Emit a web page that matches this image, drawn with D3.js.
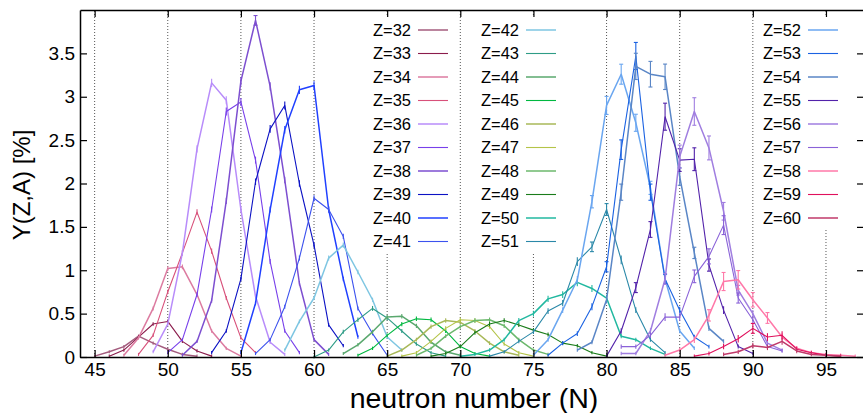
<!DOCTYPE html>
<html>
<head>
<meta charset="utf-8">
<script src="https://cdn.jsdelivr.net/npm/d3@7"></script>
<style>
  body { margin: 0; background: #fff; }
  text { font-family: "Liberation Sans", Arial, sans-serif; fill: #000; }
</style>
</head>
<body>
<svg id="chart" width="863" height="413"></svg>
<script>
// proton numbers, one curve each
const zList = [32, 33, 34, 35, 36, 37, 38, 39, 40, 41,
               42, 43, 44, 45, 46, 47, 48, 49, 50, 51,
               52, 53, 54, 55, 56, 57, 58, 59, 60];

// first neutron number of each curve
const nStart = [45, 46, 47, 48, 49, 50, 51, 53, 55, 56,
                58, 60, 62, 63, 65, 66, 67, 68, 70, 72,
                75, 76, 78, 80, 81, 81, 84, 86, 88];

// yields Y(Z,A) in %, one value per neutron number from nStart on
const yields = [
  [0.01, 0.06, 0.12, 0.24, 0.16, 0.09, 0.03, 0.01],
  [0.01, 0.08, 0.23, 0.38, 0.41, 0.18, 0.07, 0.01],
  [0.02, 0.22, 0.56, 1.02, 1.04, 0.72, 0.30, 0.10, 0.01],
  [0.03, 0.25, 0.75, 1.20, 1.67, 1.22, 0.68, 0.22, 0.05],
  [0.06, 0.38, 1.20, 2.40, 3.16, 2.96, 1.70, 0.70, 0.17, 0.03],
  [0.05, 0.20, 0.72, 1.70, 2.83, 2.94, 2.27, 1.10, 0.30, 0.05],
  [0.02, 0.18, 0.65, 1.80, 3.18, 3.88, 3.12, 2.04, 0.85, 0.20, 0.03],
  [0.05, 0.30, 0.90, 2.02, 2.63, 2.90, 2.00, 1.29, 0.37, 0.13],
  [0.05, 0.62, 1.70, 2.62, 3.08, 3.13, 1.70, 0.90, 0.23],
  [0.04, 0.20, 0.58, 1.14, 1.83, 1.70, 1.39, 0.56, 0.27, 0.02],
  [0.08, 0.41, 0.68, 1.14, 1.29, 0.98, 0.66, 0.23, 0.08],
  [0.00, 0.08, 0.29, 0.43, 0.56, 0.45, 0.30, 0.15, 0.05, 0.01],
  [0.04, 0.14, 0.29, 0.46, 0.47, 0.36, 0.17, 0.06, 0.02],
  [0.02, 0.10, 0.25, 0.38, 0.44, 0.43, 0.30, 0.12, 0.04, 0.01],
  [0.01, 0.08, 0.20, 0.35, 0.42, 0.40, 0.30, 0.16, 0.06, 0.02],
  [0.01, 0.05, 0.18, 0.33, 0.43, 0.42, 0.35, 0.15, 0.05, 0.01],
  [0.02, 0.10, 0.24, 0.35, 0.42, 0.43, 0.36, 0.20, 0.08, 0.03],
  [0.01, 0.04, 0.12, 0.28, 0.38, 0.42, 0.37, 0.31, 0.26, 0.16, 0.13, 0.05, 0.01],
  [0.01, 0.03, 0.08, 0.20, 0.42, 0.50, 0.67, 0.72, 0.86, 0.79, 0.68, 0.24, 0.20, 0.10, 0.03],
  [0.01, 0.06, 0.18, 0.29, 0.53, 0.62, 1.10, 1.27, 1.70, 1.12, 0.54, 0.20, 0.05],
  [0.02, 0.20, 0.54, 0.89, 1.79, 2.90, 3.26, 2.70, 1.95, 0.90, 0.30, 0.10],
  [0.02, 0.16, 0.27, 0.58, 1.04, 2.39, 3.47, 1.90, 0.90, 0.54, 0.23, 0.12],
  [0.08, 0.17, 0.66, 1.90, 3.35, 3.26, 3.23, 2.08, 1.20, 0.33, 0.18],
  [0.01, 0.30, 0.80, 1.47, 2.77, 2.27, 2.28, 1.06, 0.54, 0.12, 0.04],
  [0.04, 0.04, 0.30, 0.90, 2.31, 2.83, 2.41, 1.68, 0.77, 0.50, 0.16, 0.08],
  [0.12, 0.12, 0.25, 0.46, 0.46, 0.93, 1.16, 1.52, 0.68, 0.43, 0.12, 0.07],
  [0.02, 0.08, 0.20, 0.48, 0.87, 0.89, 0.66, 0.45, 0.23, 0.10, 0.05, 0.03, 0.02, 0.01],
  [0.01, 0.04, 0.12, 0.21, 0.33, 0.23, 0.25, 0.09, 0.05, 0.02, 0.01],
  [0.03, 0.06, 0.13, 0.11, 0.18, 0.07, 0.03, 0.02, 0.01]
];

// relative size of the error bars of each curve
const errRel = [0.01, 0.01, 0.01, 0.01, 0.01, 0.01, 0.01, 0.01, 0.01, 0.01,
                0.01, 0.02, 0.02, 0.02, 0.02, 0.02, 0.02, 0.02, 0.03, 0.03,
                0.03, 0.04, 0.04, 0.05, 0.05, 0.06, 0.1, 0.12, 0.12];

const colors = ["#a45c7e", "#8b1c4c", "#dc7ba0", "#d8507a", "#b88cfa", "#7840ea", "#7d4fd0",
                "#0c12c4", "#2040ff", "#3c52ee", "#7ec6e2", "#2e9c86", "#5aa86e", "#00b840",
                "#a8b858", "#b4c448", "#6cb86c", "#1a7c1a", "#22b8a0", "#2a88a8", "#6aa6f0",
                "#1a62e2", "#5a86c6", "#5222aa", "#a07ee0", "#8a62d8", "#ff78a8", "#e0105c",
                "#c03a6a"];

const xTicks = [45, 50, 55, 60, 65, 70, 75, 80, 85, 90, 95];
const yTicks = [0, 0.5, 1, 1.5, 2, 2.5, 3, 3.5];

// legend columns: which curves go in which key
const legendCols = [zList.slice(0, 10), zList.slice(10, 20), zList.slice(20)];

const margin = { top: 10, left: 80 };
const plotRight = 864, plotBottom = 357;

const svg = d3.select("#chart");

const x = d3.scaleLinear().domain([44, 97.6]).range([margin.left, plotRight]);
const y = d3.scaleLinear().domain([0, 4]).range([plotBottom, margin.top]);

// dotted vertical grid
svg.append("g")
  .selectAll("line")
  .data(xTicks)
  .join("line")
  .attr("x1", d => x(d)).attr("x2", d => x(d))
  .attr("y1", plotBottom).attr("y2", margin.top)
  .attr("stroke", "#555")
  .attr("stroke-width", 1)
  .attr("stroke-dasharray", "1,2");

// white key boxes hide the grid under them
const keyBoxes = [
  { x: 356, y: 16, w: 100, h: 238 },
  { x: 472, y: 16, w: 92, h: 238 },
  { x: 763, y: 16, w: 82, h: 214 }
];
svg.append("g")
  .selectAll("rect")
  .data(keyBoxes)
  .join("rect")
  .attr("x", d => d.x).attr("y", d => d.y)
  .attr("width", d => d.w).attr("height", d => d.h)
  .attr("fill", "#fff");

// curves with error bars
const series = zList.map((z, i) => ({
  z: z,
  color: colors[i],
  width: z % 2 === 0 ? 1.5 : 1.1,
  points: yields[i].map((v, k) => ({ n: nStart[i] + k, v: v, e: v * errRel[i] }))
}));

const line = d3.line().x(d => x(d.n)).y(d => y(d.v));

const plot = svg.append("g");
series.forEach(s => {
  const g = plot.append("g");
  g.append("path")
    .datum(s.points)
    .attr("d", line)
    .attr("fill", "none")
    .attr("stroke", s.color)
    .attr("stroke-width", s.width)
    .attr("stroke-linejoin", "round");
  const bars = g.selectAll(".eb")
    .data(s.points)
    .join("g")
    .attr("stroke", s.color)
    .attr("stroke-width", 1.1);
  bars.append("line")
    .attr("x1", d => x(d.n)).attr("x2", d => x(d.n))
    .attr("y1", d => y(d.v - d.e) + 1.5).attr("y2", d => y(d.v + d.e) - 1.5);
  bars.filter(d => y(d.v - d.e) - y(d.v + d.e) > 6)
    .append("line")
    .attr("x1", d => x(d.n) - 2).attr("x2", d => x(d.n) + 2)
    .attr("y1", d => y(d.v + d.e) - 1.5).attr("y2", d => y(d.v + d.e) - 1.5);
  bars.filter(d => y(d.v - d.e) - y(d.v + d.e) > 6)
    .append("line")
    .attr("x1", d => x(d.n) - 2).attr("x2", d => x(d.n) + 2)
    .attr("y1", d => y(d.v - d.e) + 1.5).attr("y2", d => y(d.v - d.e) + 1.5);
});

// keys
const keyText = [411, 519, 801];
const keySample = [[418, 448], [526, 556], [808, 838]];
legendCols.forEach((col, c) => {
  col.forEach((z, r) => {
    const i = zList.indexOf(z);
    const yy = 30 + r * 23.5;
    svg.append("text")
      .attr("x", keyText[c]).attr("y", yy)
      .attr("dy", "0.35em")
      .attr("text-anchor", "end")
      .style("font-size", "16.5px")
      .text("Z=" + z);
    svg.append("line")
      .attr("x1", keySample[c][0]).attr("x2", keySample[c][1])
      .attr("y1", yy).attr("y2", yy)
      .attr("stroke", colors[i])
      .attr("stroke-width", series[i].width);
  });
});

// axes: ticks point inward, mirrored on top and right
const xAxisB = d3.axisBottom(x).tickValues(xTicks).tickSizeInner(-7).tickSizeOuter(0).tickPadding(6);
const xAxisT = d3.axisTop(x).tickValues(xTicks).tickSizeInner(-7).tickSizeOuter(0).tickFormat("");
const yAxisL = d3.axisLeft(y).tickValues(yTicks).tickSizeInner(-7).tickSizeOuter(0).tickPadding(5)
  .tickFormat(d3.format("~g"));
const yAxisR = d3.axisRight(y).tickValues(yTicks).tickSizeInner(-7).tickSizeOuter(0).tickFormat("");

function styleAxis(g) {
  g.select(".domain").attr("stroke", "#000").attr("stroke-width", 1.5);
  g.selectAll(".tick line").attr("stroke", "#000").attr("stroke-width", 1.2);
  g.selectAll(".tick text")
    .style("font-size", "19px")
    .style("font-family", "'Liberation Sans', Arial, sans-serif");
}

svg.append("g").attr("transform", `translate(0,${plotBottom})`).call(xAxisB).call(styleAxis);
svg.append("g").attr("transform", `translate(0,${margin.top})`).call(xAxisT).call(styleAxis);
svg.append("g").attr("transform", `translate(${margin.left},0)`).call(yAxisL).call(styleAxis);
svg.append("g").attr("transform", `translate(${plotRight},0)`).call(yAxisR).call(styleAxis);

// axis titles
svg.append("text")
  .attr("x", 474).attr("y", 408)
  .attr("text-anchor", "middle")
  .style("font-size", "28.5px")
  .text("neutron number (N)");

svg.append("text")
  .attr("transform", "translate(30,185) rotate(-90)")
  .attr("text-anchor", "middle")
  .style("font-size", "24px")
  .text("Y(Z,A) [%]");
</script>
</body>
</html>
